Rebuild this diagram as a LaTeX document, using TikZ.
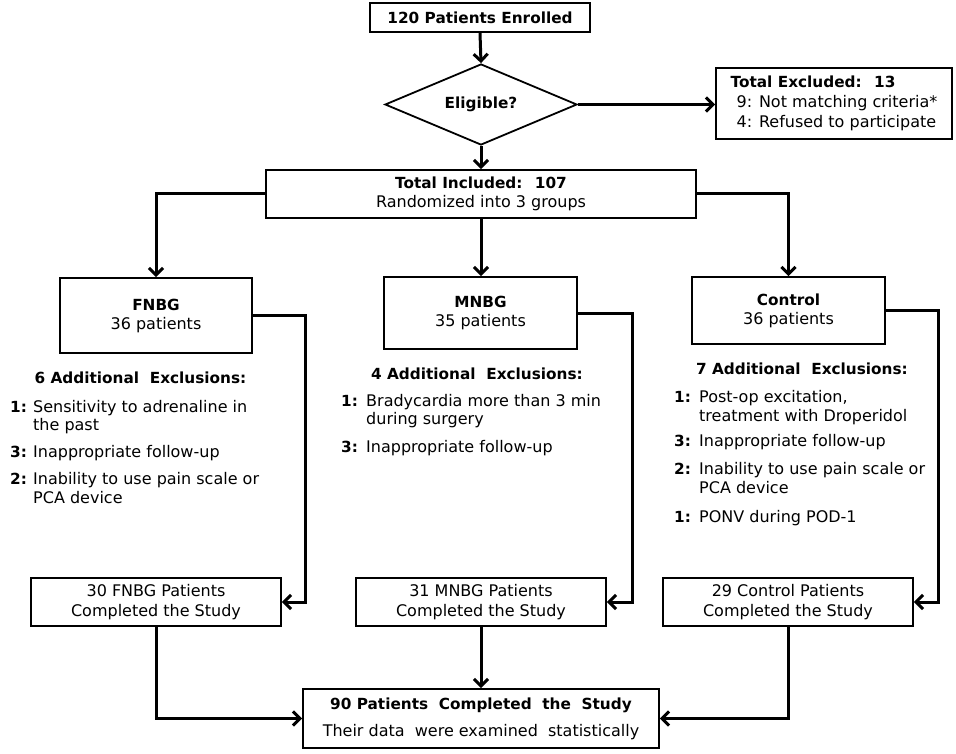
\documentclass[tikz,border=0pt]{standalone}
\usepackage{fontspec}
\setmainfont{DejaVu Sans}
\usetikzlibrary{arrows.meta,shapes.geometric}
\newcommand{\bx}[1]{{\fontsize{15.3}{19}\selectfont\bfseries #1}}
\tikzset{
  every node/.style={font=\fontsize{16}{19}\selectfont},
  box/.style={draw, line width=1.8pt, inner sep=0pt, align=center},
  conn/.style={line width=3pt, -{Straight Barb[length=7pt,width=14pt]}},
  lbl/.style={anchor=base west, inner sep=0pt},
  head/.style={anchor=base, inner sep=0pt},
  num/.style={anchor=base west, inner sep=0pt},
}
\begin{document}
\begin{tikzpicture}[x=1pt,y=-1pt]
\useasboundingbox (0,0) rectangle (956,754);
\fill[white] (0,0) rectangle (956,754);

% boxes
\node[box, minimum width=220pt, minimum height=29pt] (enr) at (480,17.5) {\bx{120 Patients Enrolled}};
\node[draw, diamond, aspect=2.37, line width=1.8pt, inner sep=0pt, minimum width=192pt, minimum height=81pt] (elig) at (481,104.5) {\bx{Eligible?}};
\node[box, minimum width=236pt, minimum height=71pt, align=left] (excl) at (834,103.5)
  {\bx{Total Excluded:~ 13}\\[1pt]\hspace*{6pt}9: Not matching criteria*\\[1pt]\hspace*{6pt}4: Refused to participate};
\node[box, minimum width=430pt, minimum height=48pt] (incl) at (481,194)
  {\bx{Total Included:~ 107}\\Randomized into 3 groups};

\node[box, minimum width=192pt, minimum height=75pt] (fnbg) at (156,315.5) {\bx{FNBG}\\36 patients};
\node[box, minimum width=193pt, minimum height=72pt] (mnbg) at (480.5,313) {\bx{MNBG}\\35 patients};
\node[box, minimum width=193pt, minimum height=67pt] (ctrl) at (788.5,310.5) {\bx{Control}\\36 patients};

\node[box, minimum width=250pt, minimum height=48pt] (c1) at (156,602) {30 FNBG Patients\\[1pt]Completed the Study};
\node[box, minimum width=250pt, minimum height=48pt] (c2) at (481,602) {31 MNBG Patients\\[1pt]Completed the Study};
\node[box, minimum width=250pt, minimum height=48pt] (c3) at (788,602) {29 Control Patients\\[1pt]Completed the Study};

\node[box, minimum width=356pt, minimum height=59pt] (fin) at (481,718.5)
  {\bx{90 Patients~ Completed~ the~ Study}\\[8pt]Their data~ were examined~ statistically};

% FNBG exclusions
\node[head] (fh) at (140.5,383.5) {\bx{6 Additional~ Exclusions:}};
\node[num] (f1n) at (10,412.5) {\bx{1:}};
\node[lbl] (f1a) at (33,412.5) {Sensitivity to adrenaline in};
\node[lbl] (f1b) at (33,430) {the past};
\node[num] (f3n) at (10,457.5) {\bx{3:}};
\node[lbl] (f3a) at (33,457.5) {Inappropriate follow-up};
\node[num] (f2n) at (10,484.5) {\bx{2:}};
\node[lbl] (f2a) at (33,484.5) {Inability to use pain scale or};
\node[lbl] (f2b) at (33,503.5) {PCA device};

% MNBG exclusions
\node[head] (mh) at (477,379.5) {\bx{4 Additional~ Exclusions:}};
\node[num] (m1n) at (341,406.5) {\bx{1:}};
\node[lbl] (m1a) at (366,406.5) {Bradycardia more than 3 min};
\node[lbl] (m1b) at (366,424) {during surgery};
\node[num] (m3n) at (341,452.5) {\bx{3:}};
\node[lbl] (m3a) at (366,452.5) {Inappropriate follow-up};

% Control exclusions
\node[head] (ch) at (802,374.5) {\bx{7 Additional~ Exclusions:}};
\node[num] (k1n) at (674,402.5) {\bx{1:}};
\node[lbl] (k1a) at (699,402.5) {Post-op excitation,};
\node[lbl] (k1b) at (699,421.5) {treatment with Droperidol};
\node[num] (k3n) at (674,446.5) {\bx{3:}};
\node[lbl] (k3a) at (699,446.5) {Inappropriate follow-up};
\node[num] (k2n) at (674,474.5) {\bx{2:}};
\node[lbl] (k2a) at (699,474.5) {Inability to use pain scale or};
\node[lbl] (k2b) at (699,493.5) {PCA device};
\node[num] (k4n) at (674,522.5) {\bx{1:}};
\node[lbl] (k4a) at (699,522.5) {PONV during POD-1};

% coordinates for side lines
\coordinate (fr) at (305,0);
\coordinate (mr) at (632,0);
\coordinate (cr) at (938,0);

% connectors
\draw[conn] (enr.south) -- (elig.north);
\draw[conn] (elig.east) -- (elig.east -| excl.west);
\draw[conn] (elig.south) -- (incl.north);
\draw[conn] (incl.west) -| (fnbg.north);
\draw[conn] (incl.south) -- (incl.south |- mnbg.north);
\draw[conn] (incl.east) -| (ctrl.north);

\draw[conn] (fnbg.east) -- (fnbg.east -| fr) |- (c1.east);
\draw[conn] (mnbg.east) -- (mnbg.east -| mr) |- (c2.east);
\draw[conn] (ctrl.east) -- (ctrl.east -| cr) |- (c3.east);

\draw[conn] (c1.south) |- (fin.west);
\draw[conn] (c2.south) -- (c2.south |- fin.north);
\draw[conn] (c3.south) |- (fin.east);
\end{tikzpicture}
\end{document}
